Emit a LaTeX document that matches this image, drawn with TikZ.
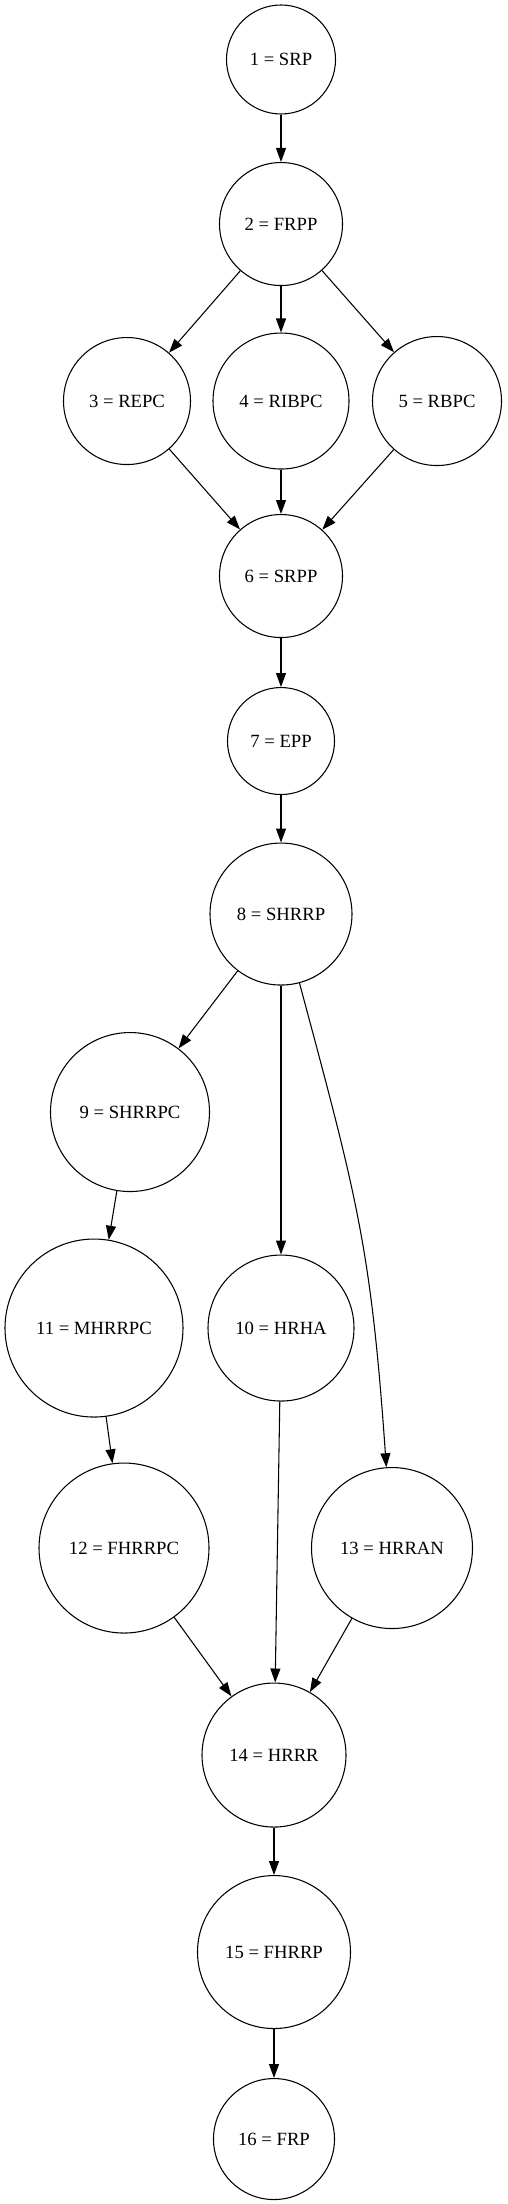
\documentclass[tikz,border=0pt]{standalone}
\usepackage{fontspec}
\setmainfont{Liberation Serif}
\usetikzlibrary{positioning,arrows.meta}

\begin{document}
\begin{tikzpicture}[x=0.75pt, y=0.75pt, >={Triangle[length=10.5pt,width=7.5pt]}, line width=0.8pt,
    stage/.style={draw, circle, inner sep=0pt, font=\fontsize{14}{17}\selectfont}]
    \useasboundingbox (0,0) rectangle (507,-2204);
    % Stages
    \node[stage, minimum size=81.75pt] (n1) at (281,-59.5) {1 = SRP};
    \node[stage, minimum size=92.25pt, below of=n1, node distance=123.4pt] (n2) {2 = FRPP};
    \node[stage, minimum size=102pt, below of=n2, node distance=132.75pt] (n4) {4 = RIBPC};
    \node[stage, minimum size=95.25pt, left of=n4, node distance=115.5pt] (n3) {3 = REPC};
    \node[stage, minimum size=96.75pt, right of=n4, node distance=117pt] (n5) {5 = RBPC};
    \node[stage, minimum size=92.25pt, below of=n4, node distance=131.25pt] (n6) {6 = SRPP};
    \node[stage, minimum size=80.25pt, below of=n6, node distance=123.75pt] (n7) {7 = EPP};
    \node[stage, minimum size=106.5pt, below of=n7, node distance=129.75pt] (n8) {8 = SHRRP};
    \node[stage, minimum size=109.5pt, below of=n8, node distance=310.5pt] (n10) {10 = HRHA};
    \node[stage, minimum size=133.5pt, left of=n10, node distance=140.25pt] (n11) {11 = MHRRPC};
    \node[stage, minimum size=119.25pt, above of=n11, node distance=162pt, xshift=27pt] (n9) {9 = SHRRPC};
    \node[stage, minimum size=127.5pt, below of=n11, node distance=165pt, xshift=22.5pt] (n12) {12 = FHRRPC};
    \node[stage, minimum size=120.75pt, right of=n12, node distance=201pt] (n13) {13 = HRRAN};
    \node[stage, minimum size=108pt, below of=n10, node distance=320.25pt, xshift=-5.25pt] (n14) {14 = HRRR};
    \node[stage, minimum size=114.75pt, below of=n14, node distance=147.75pt] (n15) {15 = FHRRP};
    \node[stage, minimum size=90.75pt, below of=n15, node distance=140.25pt] (n16) {16 = FRP};

    % Flow
    \draw[->] (n1) -- (n2);
    \draw[->] (n2) -- (n3);
    \draw[->] (n2) -- (n4);
    \draw[->] (n2) -- (n5);
    \draw[->] (n3) -- (n6);
    \draw[->] (n4) -- (n6);
    \draw[->] (n5) -- (n6);
    \draw[->] (n6) -- (n7);
    \draw[->] (n7) -- (n8);
    \draw[->] (n8) -- (n9);
    \draw[->] (n8) -- (n10);
    \draw[->] (n8) to[out=-75, in=94, looseness=1.15] (n13);
    \draw[->] (n9) -- (n11);
    \draw[->] (n11) -- (n12);
    \draw[->] (n10) -- (n14);
    \draw[->] (n12) -- (n14);
    \draw[->] (n13) -- (n14);
    \draw[->] (n14) -- (n15);
    \draw[->] (n15) -- (n16);
\end{tikzpicture}
\end{document}
